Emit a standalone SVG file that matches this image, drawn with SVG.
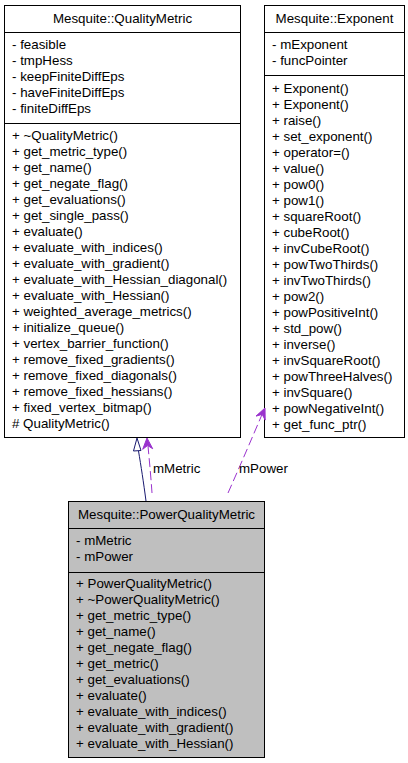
<svg xmlns="http://www.w3.org/2000/svg" width="408" height="763" viewBox="0 0 408 763">
<style>
.box{fill:#ffffff;stroke:#000000;stroke-width:1}
.cur{fill:#bfbfbf;stroke:#000000;stroke-width:1}
.sep{stroke:#000000;stroke-width:1}
text{font-family:"Liberation Sans",Arial,sans-serif;font-size:13.33px;fill:#000000}
.t{text-anchor:middle}
.inh{fill:none;stroke:#191970;stroke-width:1}
.use{fill:none;stroke:#9a32cd;stroke-width:1;stroke-dasharray:9,4}
.ah{fill:#9a32cd;stroke:#9a32cd;stroke-width:1}
</style>
<rect width="408" height="763" fill="#ffffff"/>
<g id="node-QualityMetric">
<rect class="box" x="4.5" y="5.5" width="236" height="432"/>
<line class="sep" x1="4.5" y1="32.5" x2="240.5" y2="32.5"/>
<line class="sep" x1="4.5" y1="123.5" x2="240.5" y2="123.5"/>
<text class="t" x="122.5" y="23">Mesquite::QualityMetric</text>
<text x="12" y="49"><tspan x="12">- feasible</tspan><tspan x="12" dy="16">- tmpHess</tspan><tspan x="12" dy="16">- keepFiniteDiffEps</tspan><tspan x="12" dy="16">- haveFiniteDiffEps</tspan><tspan x="12" dy="16">- finiteDiffEps</tspan></text>
<text x="12" y="139.5"><tspan x="12">+ ~QualityMetric()</tspan><tspan x="12" dy="16">+ get_metric_type()</tspan><tspan x="12" dy="16">+ get_name()</tspan><tspan x="12" dy="16">+ get_negate_flag()</tspan><tspan x="12" dy="16">+ get_evaluations()</tspan><tspan x="12" dy="16">+ get_single_pass()</tspan><tspan x="12" dy="16">+ evaluate()</tspan><tspan x="12" dy="16">+ evaluate_with_indices()</tspan><tspan x="12" dy="16">+ evaluate_with_gradient()</tspan><tspan x="12" dy="16">+ evaluate_with_Hessian_diagonal()</tspan><tspan x="12" dy="16">+ evaluate_with_Hessian()</tspan><tspan x="12" dy="16">+ weighted_average_metrics()</tspan><tspan x="12" dy="16">+ initialize_queue()</tspan><tspan x="12" dy="16">+ vertex_barrier_function()</tspan><tspan x="12" dy="16">+ remove_fixed_gradients()</tspan><tspan x="12" dy="16">+ remove_fixed_diagonals()</tspan><tspan x="12" dy="16">+ remove_fixed_hessians()</tspan><tspan x="12" dy="16">+ fixed_vertex_bitmap()</tspan><tspan x="12" dy="16"># QualityMetric()</tspan></text>
</g>
<g id="node-Exponent">
<rect class="box" x="264.5" y="5.5" width="140" height="432"/>
<line class="sep" x1="264.5" y1="32.5" x2="404.5" y2="32.5"/>
<line class="sep" x1="264.5" y1="75.5" x2="404.5" y2="75.5"/>
<text class="t" x="334.5" y="23">Mesquite::Exponent</text>
<text x="272" y="49"><tspan x="272">- mExponent</tspan><tspan x="272" dy="16">- funcPointer</tspan></text>
<text x="272" y="92.5"><tspan x="272">+ Exponent()</tspan><tspan x="272" dy="16">+ Exponent()</tspan><tspan x="272" dy="16">+ raise()</tspan><tspan x="272" dy="16">+ set_exponent()</tspan><tspan x="272" dy="16">+ operator=()</tspan><tspan x="272" dy="16">+ value()</tspan><tspan x="272" dy="16">+ pow0()</tspan><tspan x="272" dy="16">+ pow1()</tspan><tspan x="272" dy="16">+ squareRoot()</tspan><tspan x="272" dy="16">+ cubeRoot()</tspan><tspan x="272" dy="16">+ invCubeRoot()</tspan><tspan x="272" dy="16">+ powTwoThirds()</tspan><tspan x="272" dy="16">+ invTwoThirds()</tspan><tspan x="272" dy="16">+ pow2()</tspan><tspan x="272" dy="16">+ powPositiveInt()</tspan><tspan x="272" dy="16">+ std_pow()</tspan><tspan x="272" dy="16">+ inverse()</tspan><tspan x="272" dy="16">+ invSquareRoot()</tspan><tspan x="272" dy="16">+ powThreeHalves()</tspan><tspan x="272" dy="16">+ invSquare()</tspan><tspan x="272" dy="16">+ powNegativeInt()</tspan><tspan x="272" dy="16">+ get_func_ptr()</tspan></text>
</g>
<g id="node-PowerQualityMetric">
<rect class="cur" x="68.5" y="501.5" width="196" height="256"/>
<line class="sep" x1="68.5" y1="528.5" x2="264.5" y2="528.5"/>
<line class="sep" x1="68.5" y1="572.5" x2="264.5" y2="572.5"/>
<text class="t" x="166.5" y="519">Mesquite::PowerQualityMetric</text>
<text x="76" y="544.5"><tspan x="76">- mMetric</tspan><tspan x="76" dy="16">- mPower</tspan></text>
<text x="76" y="587.5"><tspan x="76">+ PowerQualityMetric()</tspan><tspan x="76" dy="16">+ ~PowerQualityMetric()</tspan><tspan x="76" dy="16">+ get_metric_type()</tspan><tspan x="76" dy="16">+ get_name()</tspan><tspan x="76" dy="16">+ get_negate_flag()</tspan><tspan x="76" dy="16">+ get_metric()</tspan><tspan x="76" dy="16">+ get_evaluations()</tspan><tspan x="76" dy="16">+ evaluate()</tspan><tspan x="76" dy="16">+ evaluate_with_indices()</tspan><tspan x="76" dy="16">+ evaluate_with_gradient()</tspan><tspan x="76" dy="16">+ evaluate_with_Hessian()</tspan></text>
</g>
<g id="connectors">
<path class="inh" d="M146,501 C143.5,482 141,466 138.5,451"/>
<polygon class="inh" points="137,438 133.5,451 141,450.5"/>
<path class="use" d="M152,493 C151,478 149.5,462 148,446"/>
<polygon class="ah" points="147,438 142.7,449.3 147.6,445.5 152.7,448.7"/>
<text x="153" y="473">mMetric</text>
<path class="use" d="M228,493 C240,466 252,438 262,414.5"/>
<polygon class="ah" points="265,408 256,416.1 262.2,414.4 265.2,420.1"/>
<text x="239" y="473">mPower</text>
</g>
</svg>
